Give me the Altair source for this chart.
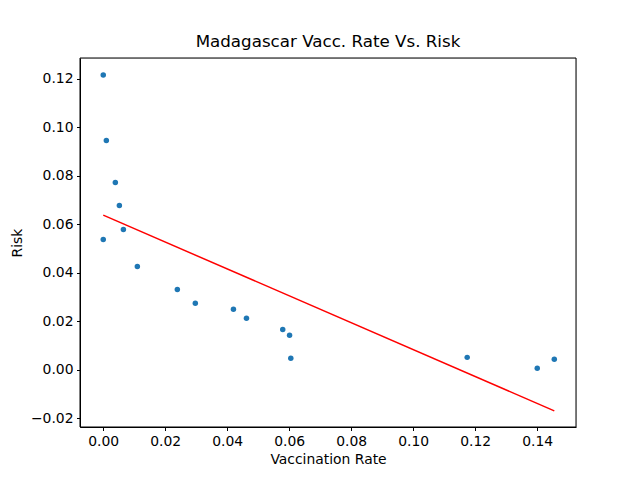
import altair as alt
import pandas as pd

vacc_rate = [0.0, 0.001, 0.0039, 0.0052, 0.0065, 0.0, 0.011, 0.0239, 0.0297,
             0.042, 0.0462, 0.0579, 0.0601, 0.0605, 0.1174, 0.14, 0.1455]
risk = [0.1215, 0.0945, 0.0772, 0.0677, 0.0578, 0.0537, 0.0426, 0.0331, 0.0274,
        0.0249, 0.0212, 0.0166, 0.0142, 0.0047, 0.0051, 0.0006, 0.0043]

df = pd.DataFrame({"x": vacc_rate, "y": risk})

FONT = "DejaVu Sans"
xscale = alt.Scale(domain=[-0.0075, 0.1525], nice=False, zero=False)
yscale = alt.Scale(domain=[-0.0236, 0.1285], nice=False, zero=False)

xaxis = alt.Axis(title="Vaccination Rate", values=[0, 0.02, 0.04, 0.06, 0.08, 0.10, 0.12, 0.14],
                 format=".2f", grid=False, tickSize=3.5, labelPadding=3.5, titlePadding=5,
                 domainColor="black", tickColor="black", labelColor="black", titleColor="black",
                 labelFont=FONT, titleFont=FONT, labelFontSize=13.9, titleFontSize=13.9,
                 titleFontWeight="normal", labelFlush=False)
yaxis = alt.Axis(title="Risk", values=[-0.02, 0, 0.02, 0.04, 0.06, 0.08, 0.10, 0.12],
                 format=".2f", grid=False, tickSize=3.5, labelPadding=3.5, titlePadding=6,
                 domainColor="black", tickColor="black", labelColor="black", titleColor="black",
                 labelFont=FONT, titleFont=FONT, labelFontSize=13.9, titleFontSize=13.9,
                 titleFontWeight="normal", labelFlush=False)

frame = alt.Chart(pd.DataFrame({"a": [0]})).mark_rect(
    fill=None, stroke="black", strokeWidth=1
).encode(
    x=alt.value(0), x2=alt.value(496), y=alt.value(0), y2=alt.value(369)
)

points = alt.Chart(df).mark_circle(size=30, color="#1f77b4", opacity=1).encode(
    x=alt.X("x:Q", scale=xscale, axis=xaxis),
    y=alt.Y("y:Q", scale=yscale, axis=yaxis),
)

line = alt.Chart(df).transform_regression("x", "y").mark_line(color="red", strokeWidth=1.5).encode(
    x=alt.X("x:Q", scale=xscale),
    y=alt.Y("y:Q", scale=yscale),
)

chart = (line + points + frame).properties(
    width=496, height=369,
    title=alt.Title("Madagascar Vacc. Rate Vs. Risk", font=FONT, fontSize=16.7,
                    fontWeight="normal", color="black", offset=7),
    autosize=alt.AutoSizeParams(type="none"),
    padding={"left": 72, "top": 50, "right": 56, "bottom": 45},
).configure_view(stroke="black", strokeWidth=1).configure(background="white")

chart.save("out.html", embed_options={"renderer": "svg", "actions": False})
